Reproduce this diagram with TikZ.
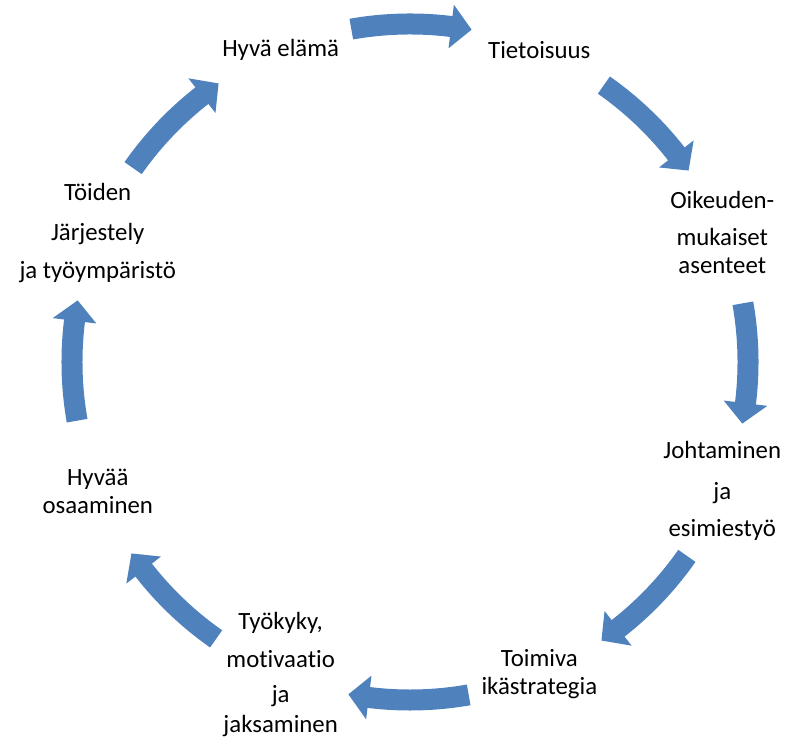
\documentclass[tikz,border=0pt]{standalone}
\usepackage{fontspec}
\setmainfont{Carlito}[Ligatures=NoCommon]
\usepackage{tikz}
\usetikzlibrary{positioning}

\definecolor{cycleblue}{HTML}{4F81BD}

\begin{document}
\begin{tikzpicture}[x=0.5pt,y=0.5pt,
 label node/.style={align=center,inner sep=0pt,font=\fontsize{12.4}{14}\selectfont},
 cycle arrow/.style={fill=cycleblue,draw=none}]
   \useasboundingbox (-410,-380) rectangle (375,362);
   \coordinate (c) at (0,0);

   \node[label node] (elama) at (112.5:338) {Hyvä elämä};
   \node[label node] (tieto) at (67.5:338) {Tietoisuus};
   \node[label node] (asenne) at (22.5:338) {Oikeuden-\\[4.5pt]mukaiset\\asenteet};
   \node[label node] (johto) at (-22.5:338) {Johtaminen\\[6.5pt]ja\\[4.5pt]esimiestyö};
   \node[label node] (strat) at (-67.5:338) {Toimiva\\ikästrategia};
   \node[label node] (tyokyky) at (-112.5:338) {Työkyky,\\[5pt]motivaatio\\[3.5pt]ja\\[1pt]jaksaminen};
   \node[label node] (osaam) at (-157.5:338) {Hyvää\\osaaminen};
   \node[label node] (toiden) at (157.5:338) {Töiden\\[6pt]Järjestely\\[5pt]ja työympäristö};

  % block arrows round the circle, clockwise
  \foreach \a in {90,45,0,-45,-90,-135,-180,-225} {
   \fill[cycle arrow] (\a+10:348.5) arc[start angle=\a+10, end angle=\a-7, radius=348.5]
     -- (\a-7:360) -- (\a-10.5:338) -- (\a-7:316) -- (\a-7:327.5)
     arc[start angle=\a-7, end angle=\a+10, radius=327.5] -- cycle;}
  \end{tikzpicture}
\end{document}
